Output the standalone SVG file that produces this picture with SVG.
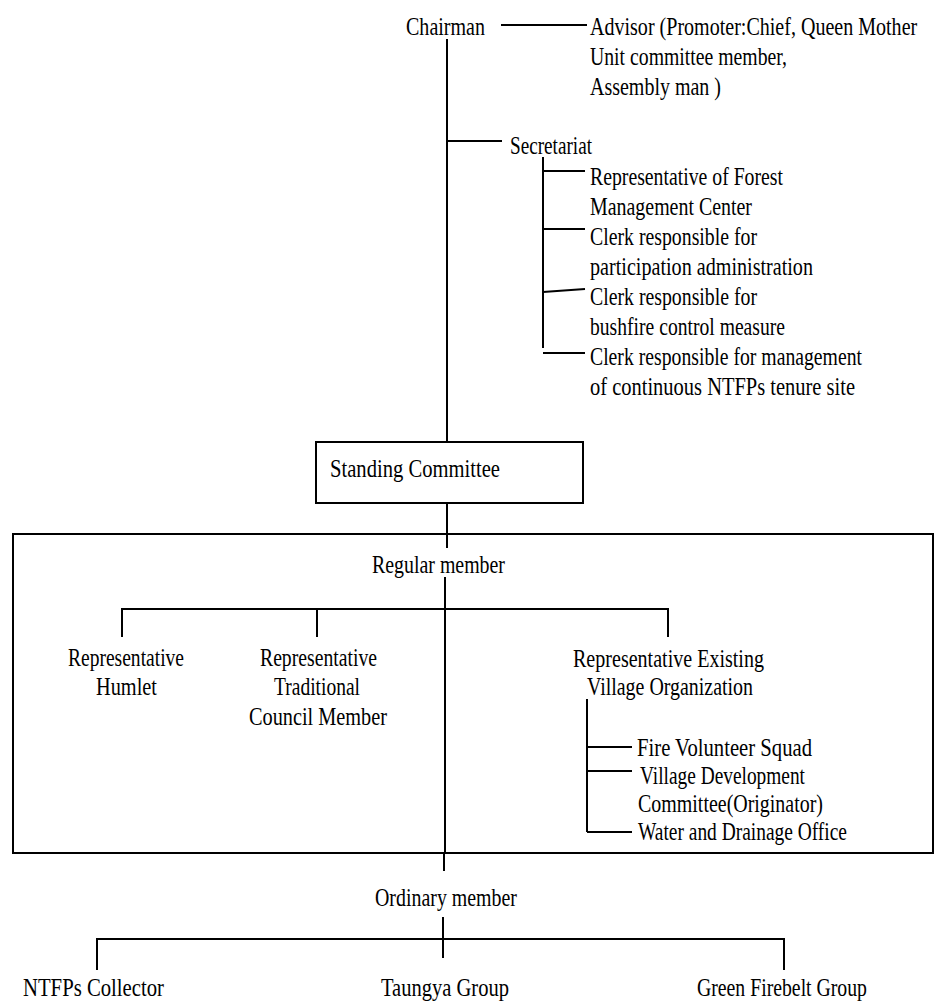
<svg xmlns="http://www.w3.org/2000/svg" width="935" height="1001" viewBox="0 0 935 1001">
<style>
text{font-family:"Liberation Serif","Times New Roman",serif;font-size:25px;fill:#000}
.ln{fill:none;stroke:#000;stroke-width:2}
.bx{fill:#fff;stroke:#000;stroke-width:2}
</style>
<rect x="0" y="0" width="935" height="1001" fill="#fff"/>
<g id="frame"><rect x="13" y="534" width="920" height="319" fill="none" stroke="#000" stroke-width="2"/></g>
<g id="connectors">
<path class="ln" d="M501,25H587"/>
<path class="ln" d="M447,39V442"/>
<path class="ln" d="M447,141H502"/>
<path class="ln" d="M543,157V348"/>
<path class="ln" d="M543,171H585M543,229H585M543,292L585,289M543,353H585"/>
<path class="ln" d="M447,503V548"/>
<path class="ln" d="M445,577V853"/>
<path class="ln" d="M122,609H668M122,608V637M317,609V637M668,608V637"/>
<path class="ln" d="M587,699V832M587,747H632M587,771H632M587,832H632"/>
<path class="ln" d="M444,853V871"/>
<path class="ln" d="M443,917V958"/>
<path class="ln" d="M97,939H784M97,938V970M784,938V970"/>
</g>
<g id="chairman"><text x="406" y="35" textLength="79" lengthAdjust="spacingAndGlyphs">Chairman</text></g>
<g id="advisor">
<text transform="matrix(0.8,0,0,1,590,35)" x="0" y="0" textLength="409" lengthAdjust="spacingAndGlyphs">Advisor (Promoter:Chief, Queen Mother</text>
<text x="590" y="65" textLength="197" lengthAdjust="spacingAndGlyphs">Unit committee member,</text>
<text x="590" y="95" textLength="131" lengthAdjust="spacingAndGlyphs">Assembly man )</text>
</g>
<g id="secretariat"><text x="510" y="154" textLength="82" lengthAdjust="spacingAndGlyphs">Secretariat</text></g>
<g id="forest-rep">
<text x="590" y="185" textLength="193" lengthAdjust="spacingAndGlyphs">Representative of Forest</text>
<text x="590" y="215" textLength="162" lengthAdjust="spacingAndGlyphs">Management Center</text>
</g>
<g id="clerk-participation">
<text x="590" y="245" textLength="167" lengthAdjust="spacingAndGlyphs">Clerk responsible for</text>
<text x="590" y="275" textLength="223" lengthAdjust="spacingAndGlyphs">participation administration</text>
</g>
<g id="clerk-bushfire">
<text x="590" y="305" textLength="167" lengthAdjust="spacingAndGlyphs">Clerk responsible for</text>
<text x="590" y="335" textLength="195" lengthAdjust="spacingAndGlyphs">bushfire control measure</text>
</g>
<g id="clerk-ntfps">
<text x="590" y="365" textLength="272" lengthAdjust="spacingAndGlyphs">Clerk responsible for management</text>
<text x="590" y="395" textLength="265" lengthAdjust="spacingAndGlyphs">of continuous NTFPs tenure site</text>
</g>
<g id="standing-committee">
<rect class="bx" x="316" y="442" width="267" height="61"/>
<text x="330" y="477" textLength="170" lengthAdjust="spacingAndGlyphs">Standing Committee</text>
</g>
<g id="regular-member"><text x="372" y="573" textLength="133" lengthAdjust="spacingAndGlyphs">Regular member</text></g>
<g id="rep-humlet">
<text x="68" y="666" textLength="116" lengthAdjust="spacingAndGlyphs">Representative</text>
<text x="96" y="695" textLength="61" lengthAdjust="spacingAndGlyphs">Humlet</text>
</g>
<g id="rep-traditional">
<text x="260" y="666" textLength="117" lengthAdjust="spacingAndGlyphs">Representative</text>
<text x="274" y="695" textLength="86" lengthAdjust="spacingAndGlyphs">Traditional</text>
<text x="249" y="725" textLength="138" lengthAdjust="spacingAndGlyphs">Council Member</text>
</g>
<g id="rep-village-org">
<text x="573" y="667" textLength="191" lengthAdjust="spacingAndGlyphs">Representative Existing</text>
<text x="587" y="695" textLength="166" lengthAdjust="spacingAndGlyphs">Village Organization</text>
</g>
<g id="fire-squad"><text x="637" y="756" textLength="175" lengthAdjust="spacingAndGlyphs">Fire Volunteer Squad</text></g>
<g id="vdc">
<text x="640" y="784" textLength="165" lengthAdjust="spacingAndGlyphs">Village Development</text>
<text x="638" y="812" textLength="185" lengthAdjust="spacingAndGlyphs">Committee(Originator)</text>
</g>
<g id="water-office"><text x="638" y="840" textLength="209" lengthAdjust="spacingAndGlyphs">Water and Drainage Office</text></g>
<g id="ordinary-member"><text x="375" y="906" textLength="142" lengthAdjust="spacingAndGlyphs">Ordinary member</text></g>
<g id="ntfps-collector"><text x="23" y="996" textLength="141" lengthAdjust="spacingAndGlyphs">NTFPs Collector</text></g>
<g id="taungya"><text x="381" y="996" textLength="128" lengthAdjust="spacingAndGlyphs">Taungya Group</text></g>
<g id="green-firebelt"><text x="697" y="996" textLength="170" lengthAdjust="spacingAndGlyphs">Green Firebelt Group</text></g>
</svg>
